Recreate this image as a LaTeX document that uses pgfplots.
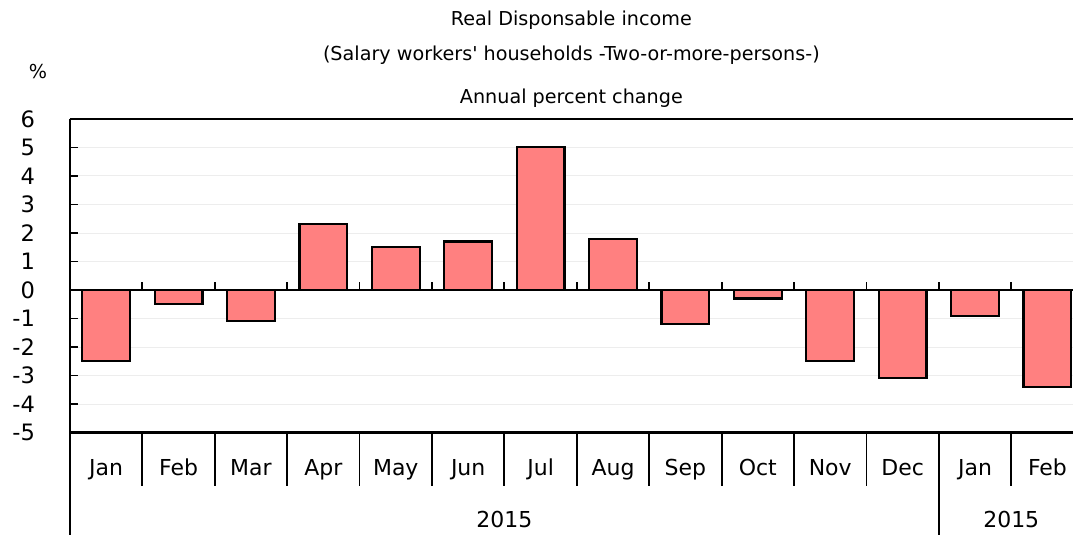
\documentclass[border=0pt]{standalone}
\usepackage{pgfplots}
\pgfplotsset{compat=1.18}
\usepackage{fontspec}
\setmainfont{DejaVu Sans}
\definecolor{barfill}{HTML}{FF8080}

\begin{document}
\begin{tikzpicture}[x=1pt,y=1pt]
\path (0,0) rectangle (537,268);
\begin{axis}[
  at={(35pt,51.5pt)}, anchor=south west,
  scale only axis, width=502pt, height=157pt,
  xmin=-0.5, xmax=13.35, ymin=-5, ymax=6,
  axis line style={draw=none},
  xtick={0,...,13},
  xticklabels={Jan,Feb,Mar,Apr,May,Jun,Jul,Aug,Sep,Oct,Nov,Dec,Jan,Feb},
  x tick style={draw=none},
  xticklabel style={anchor=center, yshift=-19pt, text height=8pt, text depth=2.5pt,
    font=\fontsize{11}{13}\selectfont},
  ytick={-5,...,6},
  yticklabels={-5,-4,-3,-2,-1,0,1,2,3,4,5,6},
  ytick pos=left, ytick align=inside, major tick length=4pt,
  y tick style={black, line width=0.8pt},
  yticklabel style={xshift=-14pt, font=\fontsize{11.3}{13}\selectfont},
  ymajorgrids, grid style={black!7, line width=0.4pt},
  clip=false,
]
\addplot[ybar, bar width=0.66, fill=barfill, draw=black, line width=1.1pt]
  coordinates {
    (0,-2.5) (1,-0.5) (2,-1.1) (3,2.3) (4,1.5) (5,1.7) (6,5.0)
    (7,1.8) (8,-1.2) (9,-0.3) (10,-2.5) (11,-3.1) (12,-0.9) (13,-3.4)};
% frame
\draw[line width=1.2pt] (axis cs:-0.5,6) -- (axis cs:13.35,6);
\draw[line width=1.2pt] (axis cs:-0.5,-5) -- (axis cs:13.35,-5);
\draw[line width=1.2pt] (axis cs:-0.5,0) -- (axis cs:13.35,0);
\draw[line width=1.2pt] (axis cs:-0.5,6) -- (axis cs:-0.5,-5) -- ++(0pt,-51.5pt);
% category ticks on zero line and separators below
\pgfplotsinvokeforeach{0.5,1.5,...,12.5}{
  \draw[line width=0.9pt] (axis cs:#1,0) -- ++(0pt,4pt);
}
\pgfplotsinvokeforeach{0.5,1.5,...,10.5,12.5}{
  \draw[line width=0.9pt] (axis cs:#1,-5) -- ++(0pt,-27pt);
}
\draw[line width=0.9pt] (axis cs:11.5,-5) -- ++(0pt,-51.5pt);
\node[font=\fontsize{11}{13}\selectfont] at ([yshift=-43.5pt]axis cs:5.5,-5) {2015};
\node[font=\fontsize{11}{13}\selectfont] at ([yshift=-43.5pt]axis cs:12.5,-5) {2015};
\end{axis}
\node[font=\fontsize{9.6}{11}\selectfont] at (286,258) {Real Disponsable income};
\node[font=\fontsize{9.6}{11}\selectfont] at (286,240.5) {(Salary workers\textquotesingle{} households -Two-or-more-persons-)};
\node[font=\fontsize{9.6}{11}\selectfont] at (286,219) {Annual percent change};
\node[font=\fontsize{9.6}{11}\selectfont] at (19,232) {\%};
\end{tikzpicture}
\end{document}
